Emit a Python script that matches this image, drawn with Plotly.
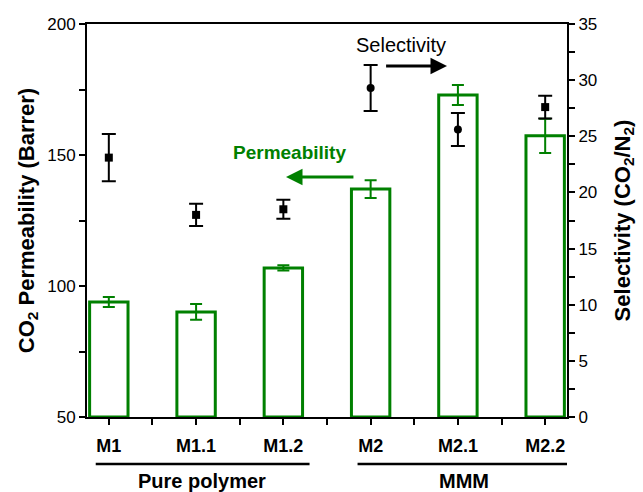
import plotly.graph_objects as go

categories = ["M1", "M1.1", "M1.2", "M2", "M2.1", "M2.2"]
permeability = [93.9, 90.1, 106.9, 137.0, 172.9, 157.3]
permeability_err = [1.9, 3.0, 1.0, 3.4, 3.8, 6.5]
selectivity = [23.1, 18.0, 18.5, 29.3, 25.6, 27.6]
selectivity_err = [2.1, 1.0, 0.85, 2.05, 1.47, 1.02]
sel_symbols = ["square", "square", "square", "circle", "circle", "square"]
groups = [("Pure polymer", 0, 2), ("MMM", 3, 5)]

GREEN = "#008000"
FONT = "Liberation Sans, Arial, sans-serif"
xs = list(range(len(categories)))

fig = go.Figure()
fig.add_trace(go.Bar(
    x=xs, y=[p - 50 for p in permeability], base=50, width=0.44,
    marker=dict(color="rgba(255,255,255,0)", line=dict(color=GREEN, width=3)),
    error_y=dict(type="data", array=permeability_err, color=GREEN, thickness=2, width=6),
    yaxis="y", showlegend=False,
))
fig.add_trace(go.Scatter(
    x=xs, y=selectivity, mode="markers", yaxis="y2",
    marker=dict(color="black", size=8, symbol=sel_symbols),
    error_y=dict(type="data", array=selectivity_err, color="black", thickness=2, width=7),
    showlegend=False,
))

fig.update_layout(
    width=643, height=492,
    margin=dict(l=87, r=73, t=24, b=75),
    paper_bgcolor="white", plot_bgcolor="white",
    font=dict(family=FONT, color="black", size=17),
    xaxis=dict(
        range=[-0.25, 5.25], tickvals=xs,
        ticktext=[f"<b>{c}</b>" for c in categories],
        ticks="outside", ticklen=6, tickwidth=2, tickcolor="black",
        minor=dict(tickvals=[i + 0.5 for i in range(5)], ticks="outside", ticklen=6, tickwidth=2, tickcolor="black"),
        showline=True, linecolor="black", linewidth=2, mirror=True,
        showgrid=False, zeroline=False, tickfont=dict(size=18),
        ticklabelstandoff=5,
    ),
    yaxis=dict(
        range=[50, 200], tickvals=[50, 100, 150, 200],
        ticks="outside", ticklen=6, tickwidth=2, tickcolor="black",
        minor=dict(tickvals=[75, 125, 175], ticks="outside", ticklen=6, tickwidth=2, tickcolor="black"),
        showline=True, linecolor="black", linewidth=2,
        showgrid=False, zeroline=False, tickfont=dict(size=17),
        title=dict(text="<b>CO<sub>2</sub> Permeability (Barrer)</b>", font=dict(size=22), standoff=7),
    ),
    yaxis2=dict(
        range=[0, 35], tickvals=list(range(0, 36, 5)), overlaying="y", side="right",
        ticks="outside", ticklen=6, tickwidth=2, tickcolor="black",
        minor=dict(tickvals=[2.5 + 5 * i for i in range(7)], ticks="outside", ticklen=6, tickwidth=2, tickcolor="black"),
        showline=True, linecolor="black", linewidth=2,
        showgrid=False, zeroline=False, tickfont=dict(size=17),
        title=dict(text="<b>Selectivity (CO<sub>2</sub>/N<sub>2</sub>)</b>", font=dict(size=22), standoff=18),
    ),
)

# Legend-like annotations with arrows
fig.add_annotation(x=3.35, y=192, xref="x", yref="y", text="Selectivity", showarrow=False,
                   font=dict(size=20, color="black"))
fig.add_annotation(x=3.875, y=184, ax=3.16, ay=184, xref="x", yref="y", axref="x", ayref="y",
                   text="", showarrow=True, arrowhead=2, arrowsize=1.1, arrowwidth=3, arrowcolor="black")
fig.add_annotation(x=2.07, y=151.1, xref="x", yref="y", text="<b>Permeability</b>", showarrow=False,
                   font=dict(size=19, color=GREEN))
fig.add_annotation(x=2.03, y=141.6, ax=2.82, ay=141.6, xref="x", yref="y", axref="x", ayref="y",
                   text="", showarrow=True, arrowhead=2, arrowsize=1.1, arrowwidth=3, arrowcolor=GREEN)

# Group brackets below the axis
for name, i0, i1 in groups:
    fig.add_shape(type="line", xref="x", yref="paper", x0=i0 - 0.15, x1=i1 + 0.3,
                  y0=-0.1196, y1=-0.1196, line=dict(color="black", width=2.5))
    fig.add_annotation(x=(i0 + i1) / 2 + 0.07, y=-0.162, xref="x", yref="paper", text=f"<b>{name}</b>",
                       showarrow=False, font=dict(size=20, color="black"), yanchor="middle")

fig.write_html("out.html")
